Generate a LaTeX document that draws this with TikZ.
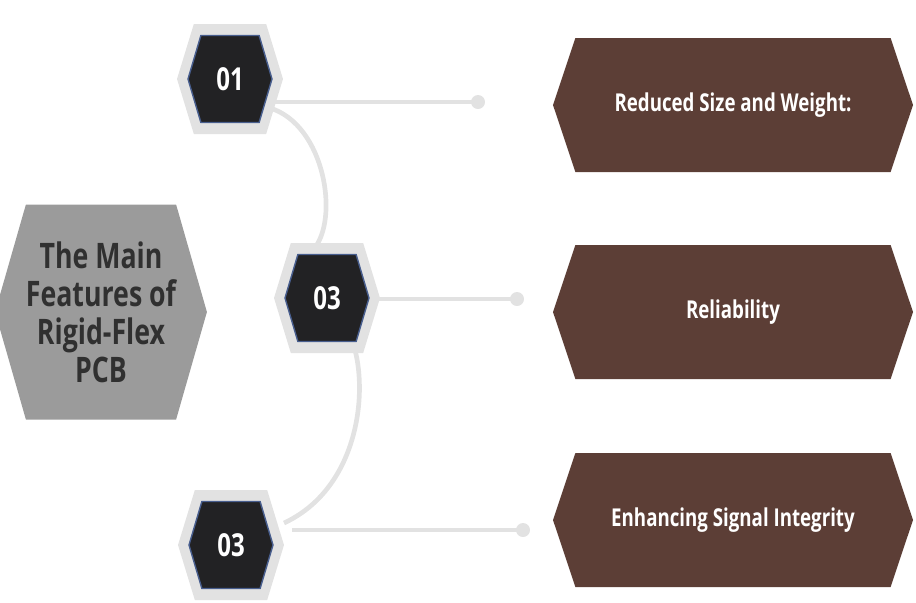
\documentclass[tikz,border=0pt]{standalone}
\usepackage{fontspec}
\usetikzlibrary{shapes.symbols}
\newfontfamily\featfont[FakeStretch=0.76]{Open Sans}
\definecolor{boxbrown}{RGB}{92,62,54}
\definecolor{hexdark}{RGB}{34,34,36}
\definecolor{hexrim}{RGB}{72,94,142}
\definecolor{linegrey}{RGB}{226,226,226}
\definecolor{maingrey}{RGB}{155,155,155}
\definecolor{maintext}{RGB}{48,48,48}
\pgfdeclarelayer{background}
\pgfsetlayers{background,main}

\begin{document}
\begin{tikzpicture}[x=0.03cm,y=-0.03cm,
    hexbase/.style={signal,signal to=west and east,inner sep=0pt},
    main hex/.style={hexbase,signal pointer angle=148,fill=maingrey,minimum width=6.06cm,minimum height=6.45cm,
        text=maintext,align=center,font=\featfont\bfseries\fontsize{30}{32.5}\selectfont},
    outer hex/.style={hexbase,signal pointer angle=146,fill=linegrey,minimum width=3.18cm,minimum height=3.3cm},
    num hex/.style={hexbase,signal pointer angle=147,fill=hexdark,draw=hexrim,line width=1.2pt,minimum width=2.52cm,minimum height=2.61cm,
        text=white,font=\featfont\bfseries\fontsize{27}{30}\selectfont},
    feat box/.style={hexbase,signal pointer angle=143,fill=boxbrown,minimum width=10.8cm,minimum height=4.02cm,
        text=white,font=\featfont\bfseries\fontsize{21}{24}\selectfont},
    link/.style={draw=linegrey,line width=4pt},
    end dot/.style={fill=linegrey}]
\useasboundingbox (0,0) rectangle (916,602);

% left title
\node[main hex] (title) at (101,312) {The Main\\Features of\\Rigid-Flex\\PCB};

% number hexagons
\node[outer hex] (h1) at (230,79) {};
\node[num hex] (n1) at (h1.center) {01};
\node[outer hex] (h2) at (327,298) {};
\node[num hex] (n2) at (h2.center) {03};
\node[outer hex] (h3) at (231,545) {};
\node[num hex] (n3) at (h3.center) {03};

% feature boxes
\node[feat box] (b1) at (733,105) {Reduced Size and Weight:};
\node[feat box] (b2) at (733,312) {Reliability};
\node[feat box] (b3) at (733,520) {Enhancing Signal Integrity};

% line ends
\coordinate (d1) at (478,102);
\coordinate (d2) at (517,299);
\coordinate (d3) at (523,530);

\begin{pgfonlayer}{background}
\draw[link] ([shift={(20,23)}]h1.center) -- (d1);
\draw[link] ([shift={(20,1)}]h2.center) -- (d2);
\draw[link] ([shift={(61,-15)}]h3.center) -- (d3);
\draw[link] ([shift={(40,29)}]h1.center) .. controls ([shift={(95,46)}]h1.center) and ([shift={(110,141)}]h1.center) .. ([shift={(-14,-48)}]h2.center);
\draw[link] ([shift={(28,52)}]h2.center) .. controls ([shift={(41,102)}]h2.center) and ([shift={(124,-55)}]h3.center) .. ([shift={(53,-22)}]h3.center);
\end{pgfonlayer}
\foreach \d in {d1,d2,d3}
    \fill[end dot] (\d) circle (7);
\end{tikzpicture}
\end{document}
